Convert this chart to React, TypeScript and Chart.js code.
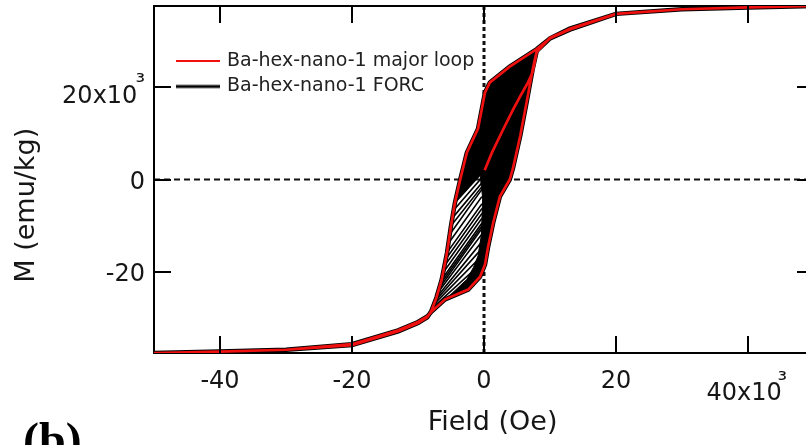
import React, { useEffect, useRef } from 'react';
import { Chart, registerables } from 'chart.js';

Chart.register(...registerables);

// Field in 10^3 Oe, magnetisation in 10^3 emu/kg
const xTickValues = [-40, -20, 0, 20, 40];
const xTickLabels: (string | string[])[] = ['-40', '-20', '0', '20', ['\u00A0\u00A0\u00A0\u00A0\u00A0\u00A0\u00A0\u00A0\u00A0\u00B3', '40x10\u00A0']];
const yTickValues = [-20, 0, 20];
const yTickLabels: (string | string[])[] = ['-20', '0', ['\u00B3', '20x10\u00A0']];

// major loop: initial curve, descending branch, ascending branch
const initialField = [0.1, 1.2, 2.9, 4.4, 5.5, 6.6, 7.4, 8.0, 10, 13, 20, 30, 40, 50];
const initialMoment = [2.0, 5.8, 10.8, 15.1, 18.0, 20.8, 23.3, 27.6, 30.6, 32.5, 35.8, 36.8, 37.2, 37.5];

const descendingField = [50, 40, 30, 20, 13, 10, 8.0, 3.9, 0.9, 0.15, -0.9, -2.6, -3.6, -4.4, -5.0, -5.6, -6.4, -7.2, -8.0, -8.6, -10, -13, -20, -30, -40, -50];
const descendingMoment = [37.5, 37.2, 36.8, 35.8, 32.4, 30.5, 28.2, 24.4, 21.0, 18.8, 11.0, 5.8, 0.0, -5.0, -10.0, -15.8, -21.6, -25.5, -28.5, -29.8, -31.0, -32.8, -35.8, -36.8, -37.2, -37.5];

const ascendingField = [-50, -40, -30, -20, -13, -10, -8.6, -7.9, -5.9, -2.4, -0.6, 0.15, 0.6, 1.4, 2.4, 3.9, 4.4, 5.5, 6.5, 7.4, 8.0, 10, 13, 20, 30, 40, 50];
const ascendingMoment = [-37.5, -37.2, -36.8, -35.6, -32.6, -30.8, -29.6, -28.5, -25.9, -23.8, -21.0, -18.4, -14.7, -9.3, -3.7, 0.0, 2.5, 9.5, 17.0, 24.0, 27.8, 30.5, 32.6, 35.8, 36.8, 37.2, 37.5];

// individual FORCs visible in the open (hatched) part: reversal point, exit point, join point
const forcReversalField = [-7.8, -7.6, -7.4, -7.2, -7.0, -6.8, -6.6, -6.4, -6.2, -6.0, -5.8, -5.6, -5.4, -5.2, -5.0, -4.8, -4.6, -4.4];
const forcReversalMoment = [-27.75, -27.0, -26.25, -25.5, -24.5, -23.55, -22.6, -21.6, -20.15, -18.7, -17.25, -15.8, -13.85, -11.9, -10.0, -8.35, -6.65, -5.0];
const forcExitField = [-0.4, -0.4, -0.4, -0.4, -0.4, -0.4, -0.4, -0.4, -0.4, -0.4, -0.4, -0.4, -0.4, -0.4, -0.4, -0.4, -0.4, -0.4];
const forcExitMoment = [-18.1, -16.6, -15.05, -13.6, -11.95, -10.75, -10.2, -9.6, -8.55, -7.5, -6.45, -5.4, -3.85, -2.3, -1.7, -0.87, 0.28, 1.3];
const forcJoinField = [0.4, 0.6, 0.85, 1.05, 1.3, 1.6, 1.7, 1.85, 2.0, 2.2, 2.4, 2.8, 3.2, 3.6, 3.9, 4.2, 4.4, 4.8];
const forcJoinMoment = [-16.4, -14.7, -13.0, -11.7, -10.0, -8.2, -7.6, -6.8, -6.0, -4.8, -3.7, -2.7, -1.7, -0.75, 0.0, 1.5, 2.5, 5.0];

// outline of the densely packed FORC region
const forcDenseField = [-8.0, -5.9, -2.4, -0.6, 0.15, 0.6, 1.4, 2.4, 3.9, 4.4, 5.5, 6.5, 7.4, 8.0, 8.0, 3.9, 0.9, 0.15, -0.9, -2.6, -3.6, -4.4, -0.6, -0.2, -0.4, -0.9, -1.6, -2.6, -5.0, -7.7, -8.0];
const forcDenseMoment = [-28.6, -25.9, -23.8, -21.0, -18.4, -14.7, -9.3, -3.7, 0.0, 2.5, 9.5, 17.0, 24.0, 27.8, 28.2, 24.4, 21.0, 18.8, 11.0, 5.8, 0.0, -5.0, 1.0, -4.0, -12.0, -16.5, -19.0, -21.6, -24.8, -27.8, -28.6];

const zeroFieldLine = [-50, 50];
const zeroFieldMoment = [0, 0];
const zeroAxisField = [0, 0];
const zeroAxisMoment = [-37.5, 37.5];

const FONT = "'DejaVu Sans', 'Liberation Sans', sans-serif";
const RED = '#f01010';
const INK = '#161616';
const NB = '\u00A0';

const pts = (h: number[], m: number[]) => h.map((v, i) => ({ x: v, y: m[i] }));

const noPad = (s: any) => {
  s.paddingTop = 0;
  s.paddingBottom = 0;
  s.paddingLeft = 0;
  s.paddingRight = 0;
};

const innerTicks = {
  id: 'innerTicks',
  afterDatasetsDraw(chart: any) {
    const { ctx, chartArea: a, scales } = chart;
    const x = scales.x;
    const y = scales.y;
    const L = 17;
    ctx.save();
    ctx.strokeStyle = '#000';
    ctx.lineWidth = 2;
    ctx.beginPath();
    for (const t of x.ticks) {
      const px = Math.round(x.getPixelForValue(t.value));
      ctx.moveTo(px, a.bottom);
      ctx.lineTo(px, a.bottom - L);
      ctx.moveTo(px, a.top);
      ctx.lineTo(px, a.top + L);
    }
    for (const t of y.ticks) {
      const py = Math.round(y.getPixelForValue(t.value));
      ctx.moveTo(a.left, py);
      ctx.lineTo(a.left + L, py);
      ctx.moveTo(a.right, py);
      ctx.lineTo(a.right - L, py);
    }
    ctx.stroke();
    ctx.restore();
  },
};

export default function App() {
  const ref = useRef<HTMLCanvasElement | null>(null);

  useEffect(() => {
    const canvas = ref.current;
    if (!canvas) return;

    const sample = (color: string, width: number) => {
      const c = document.createElement('canvas');
      c.width = 62;
      c.height = 8;
      const g = c.getContext('2d')!;
      g.strokeStyle = color;
      g.lineWidth = width;
      g.beginPath();
      g.moveTo(18, 4);
      g.lineTo(62, 4);
      g.stroke();
      return c;
    };
    const redSample = sample(RED, 2);
    const blackSample = sample('#000', 3);

    const forcDatasets = forcReversalField.map((hr, i) => ({
      label: '',
      data: [
        { x: hr, y: forcReversalMoment[i] },
        { x: forcExitField[i], y: forcExitMoment[i] },
        { x: forcJoinField[i], y: forcJoinMoment[i] },
      ],
      borderColor: '#000',
      borderWidth: 1.6,
      pointRadius: 0,
      fill: false,
    }));

    const chart = new Chart(canvas, {
      type: 'line',
      data: {
        datasets: [
          {
            label: 'Ba-hex-nano-1 major loop',
            data: [...pts(initialField, initialMoment), ...pts(descendingField, descendingMoment), ...pts(ascendingField, ascendingMoment)],
            borderColor: RED,
            borderWidth: 2.7,
            pointRadius: 0,
            fill: false,
          },
          {
            label: 'Ba-hex-nano-1 FORC',
            data: [...pts(descendingField, descendingMoment), ...pts(ascendingField, ascendingMoment)],
            borderColor: '#000',
            borderWidth: 4.5,
            pointRadius: 0,
            fill: false,
          },
          ...forcDatasets,
          {
            label: '',
            data: pts(forcDenseField, forcDenseMoment),
            borderColor: '#000',
            backgroundColor: '#000',
            borderWidth: 1,
            pointRadius: 0,
            fill: 'shape',
          },
          {
            label: '',
            data: pts(zeroFieldLine, zeroFieldMoment),
            borderColor: '#111',
            borderWidth: 2,
            borderDash: [6, 4],
            pointRadius: 0,
            fill: false,
          },
          {
            label: '',
            data: pts(zeroAxisField, zeroAxisMoment),
            borderColor: '#111',
            borderWidth: 3,
            borderDash: [4, 3],
            pointRadius: 0,
            fill: false,
          },
        ] as any,
      },
      options: {
        responsive: false,
        animation: false,
        devicePixelRatio: 1,
        events: [],
        layout: { padding: { left: 23, right: 16, top: 6, bottom: 7 } },
        elements: { line: { tension: 0 }, point: { radius: 0 } },
        scales: {
          x: {
            type: 'linear',
            position: 'bottom',
            min: -50,
            max: 50,
            afterBuildTicks: (s: any) => {
              s.ticks = xTickValues.map((v) => ({ value: v }));
            },
            afterFit: (s: any) => {
              s.height = 86;
              noPad(s);
            },
            grid: { display: false, drawTicks: false },
            border: { display: true, color: '#000', width: 2 },
            ticks: {
              autoSkip: false,
              maxRotation: 0,
              minRotation: 0,
              padding: 23,
              color: INK,
              font: { family: FONT, size: 24, lineHeight: 0.5 },
              callback: (v: any) => xTickLabels[xTickValues.indexOf(Number(v))],
            },
            title: {
              display: true,
              text: NB + NB + 'Field (Oe)',
              color: INK,
              font: { family: FONT, size: 27, lineHeight: 1.2 },
              padding: { top: 0, bottom: 0 },
            },
          },
          x2: {
            type: 'linear',
            position: 'top',
            min: -50,
            max: 50,
            afterFit: (s: any) => {
              s.height = 0;
              noPad(s);
            },
            grid: { display: false, drawTicks: false },
            border: { display: true, color: '#000', width: 2 },
            ticks: { display: false },
          },
          y: {
            type: 'linear',
            position: 'left',
            min: -37.5,
            max: 37.5,
            afterBuildTicks: (s: any) => {
              s.ticks = yTickValues.map((v) => ({ value: v }));
            },
            afterFit: (s: any) => {
              s.width = 131;
              noPad(s);
            },
            grid: { display: false, drawTicks: false },
            border: { display: true, color: '#000', width: 2 },
            ticks: {
              autoSkip: false,
              padding: 9,
              labelOffset: 3,
              color: INK,
              font: { family: FONT, size: 24, lineHeight: 0.525 },
              callback: (v: any) => yTickLabels[yTickValues.indexOf(Number(v))],
            },
            title: {
              display: true,
              text: 'M (emu/kg)' + NB + NB + NB + NB + NB + NB,
              color: INK,
              font: { family: FONT, size: 27, lineHeight: 0.3 },
              padding: { top: 0, bottom: 0 },
            },
          },
          y2: {
            type: 'linear',
            position: 'right',
            min: -37.5,
            max: 37.5,
            afterFit: (s: any) => {
              s.width = 0;
              noPad(s);
            },
            grid: { display: false, drawTicks: false },
            border: { display: true, color: '#000', width: 2 },
            ticks: { display: false },
          },
        },
        plugins: {
          tooltip: { enabled: false },
          title: {
            display: true,
            position: 'bottom',
            align: 'start',
            text: '(b)',
            color: '#000',
            font: { family: "'Liberation Serif', 'DejaVu Serif', serif", size: 48, weight: 'bold', lineHeight: 1 },
            padding: { top: -19, bottom: -5 },
          },
          legend: {
            display: true,
            position: 'chartArea',
            align: 'start',
            title: { display: true, text: '', padding: { top: 35, bottom: 0 }, font: { size: 10, lineHeight: 1 } },
            labels: {
              usePointStyle: true,
              pointStyleWidth: 57,
              boxHeight: 19,
              padding: 6.5,
              textAlign: 'left',
              color: '#222',
              font: { family: FONT, size: 19 },
              generateLabels: () => [
                { text: 'Ba-hex-nano-1 major loop', pointStyle: redSample, fillStyle: RED, strokeStyle: RED, lineWidth: 0, hidden: false, datasetIndex: 0, fontColor: '#222' },
                { text: 'Ba-hex-nano-1 FORC', pointStyle: blackSample, fillStyle: '#000', strokeStyle: '#000', lineWidth: 0, hidden: false, datasetIndex: 1, fontColor: '#222' },
              ] as any,
            },
          },
        },
      } as any,
      plugins: [innerTicks],
    });

    return () => chart.destroy();
  }, []);

  return (
    <div style={{ position: 'fixed', left: 0, top: 0, width: 806, height: 445, overflow: 'hidden', background: '#fff' }}>
      <canvas ref={ref} width={830} height={470} style={{ display: 'block', width: 830, height: 470 }} />
    </div>
  );
}
